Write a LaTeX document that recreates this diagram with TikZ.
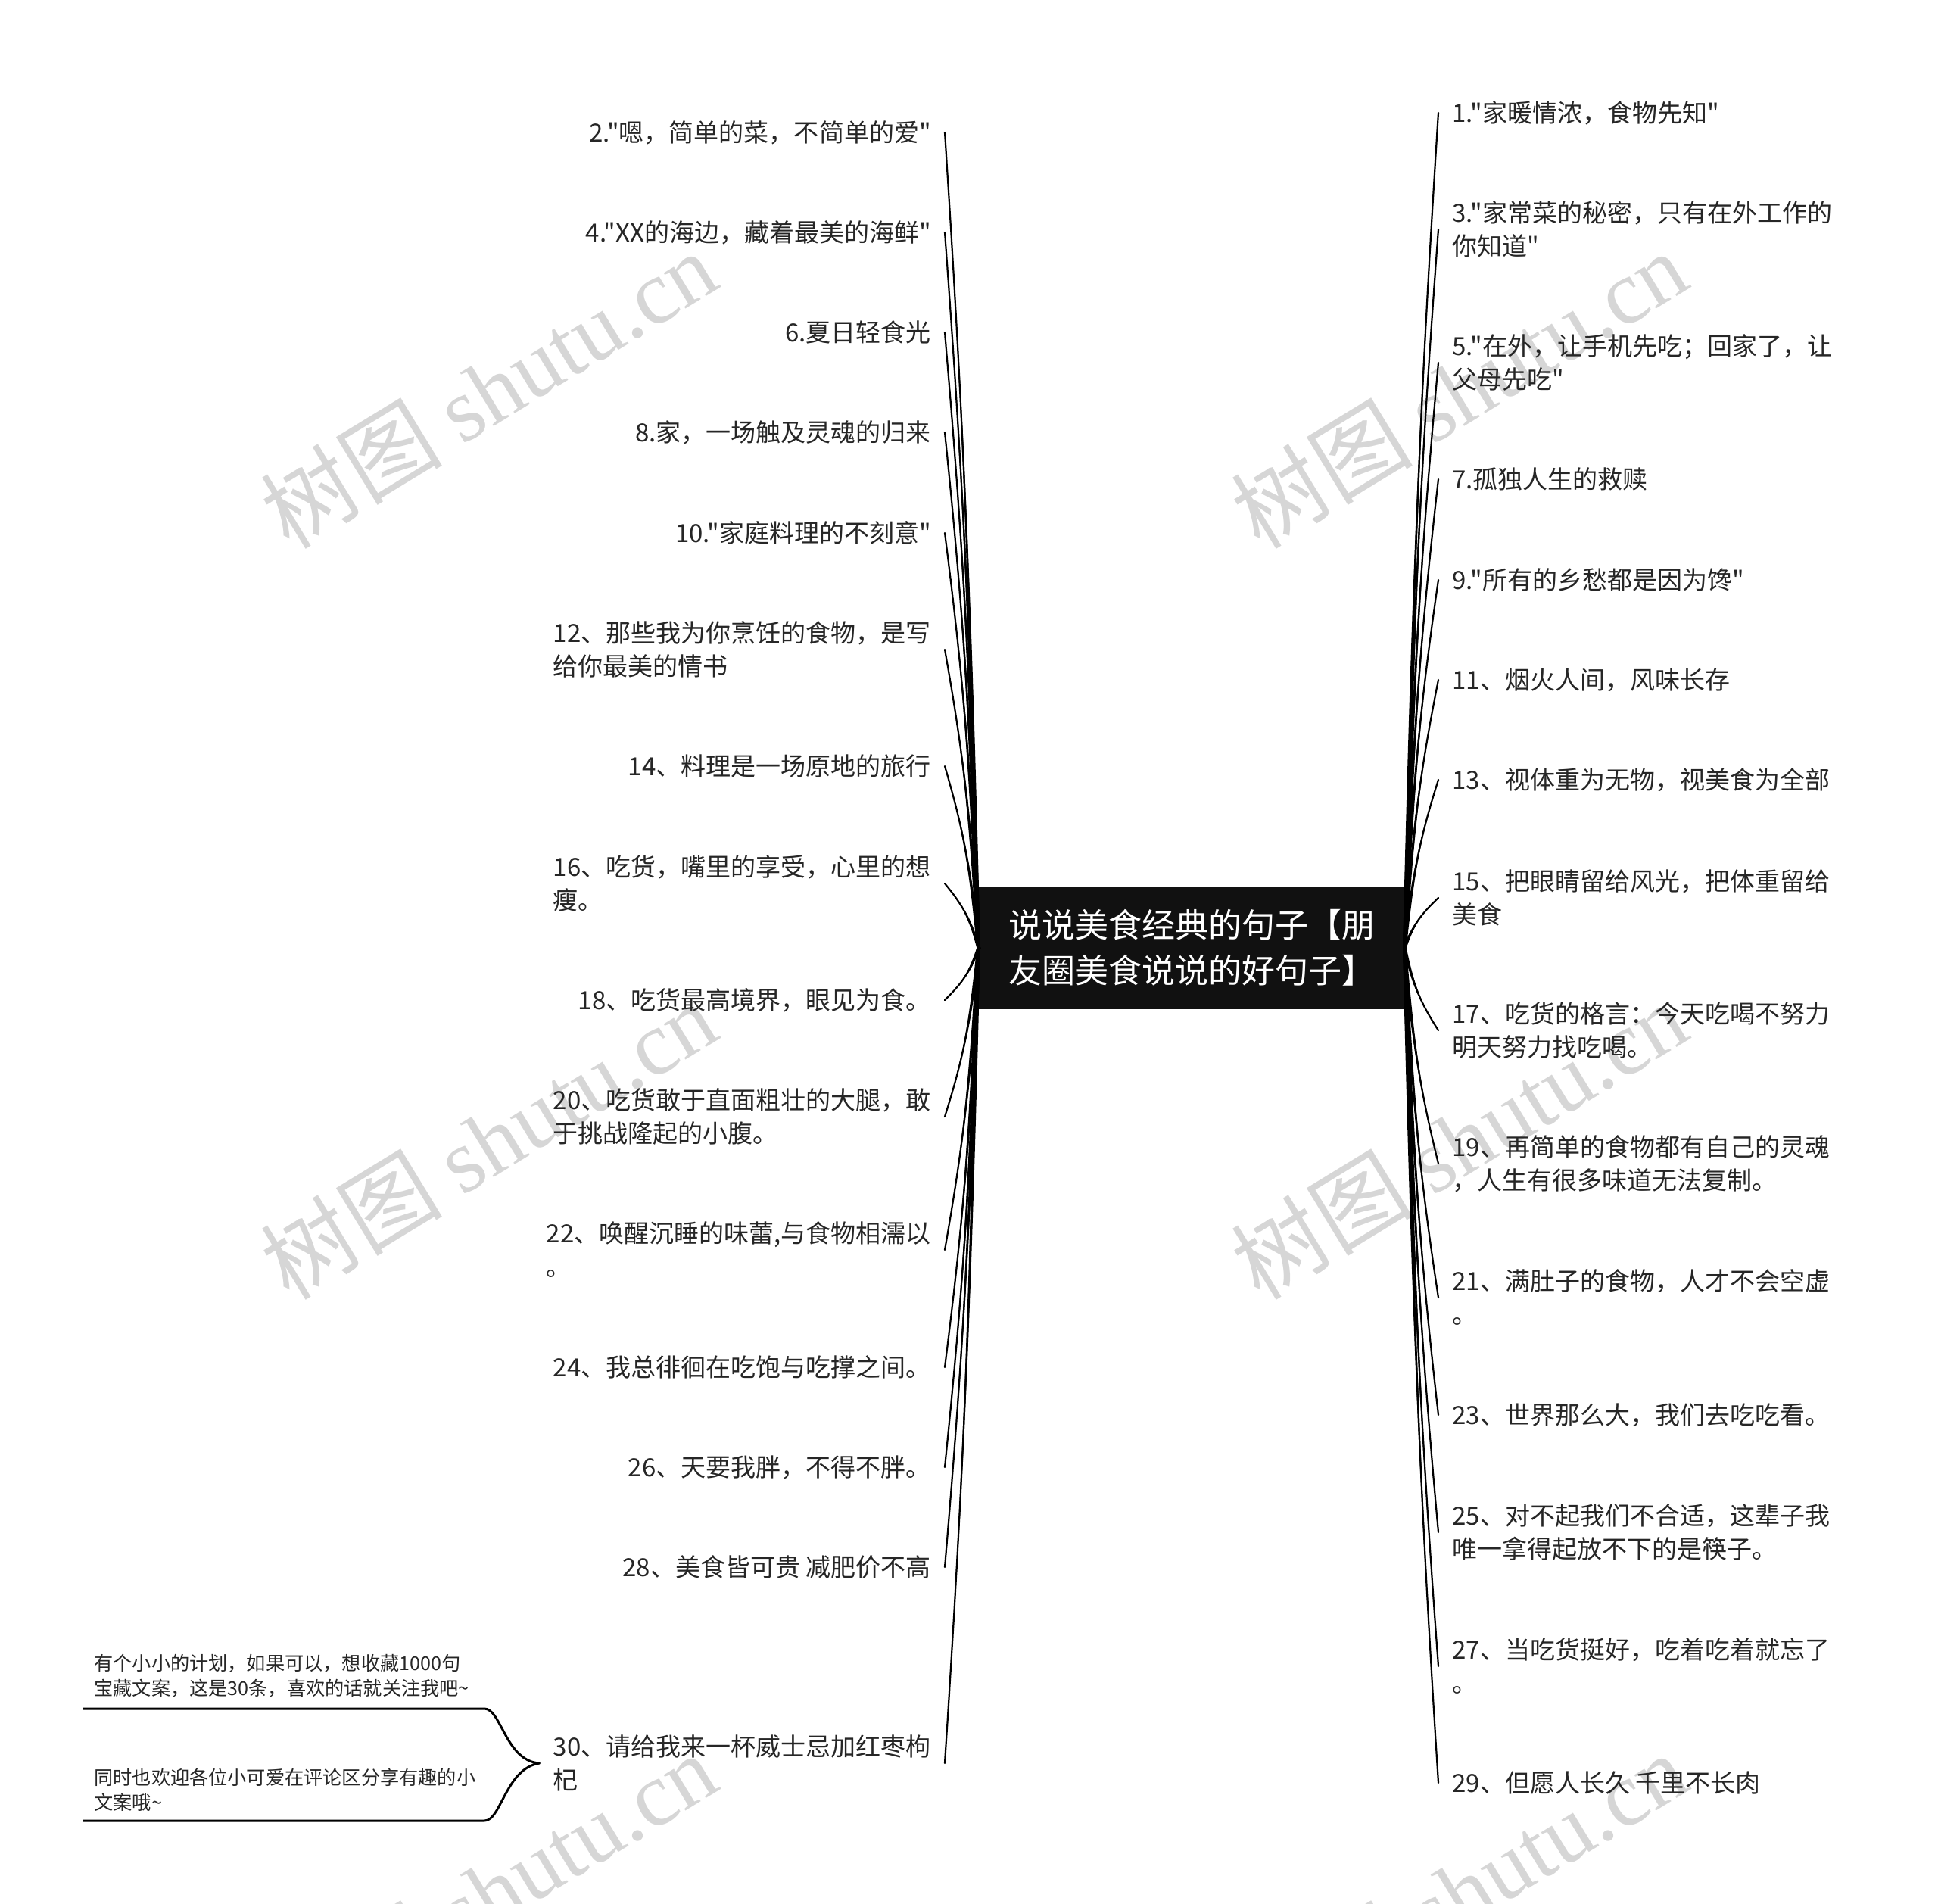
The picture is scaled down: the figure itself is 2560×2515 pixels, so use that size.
\documentclass[tikz,border=0pt]{standalone}
\usepackage{fontspec}
\newfontfamily\cjkfont{Noto Sans CJK SC}
\setmainfont{Noto Sans CJK SC}
\newfontfamily\wmlatin{Liberation Serif}
\usetikzlibrary{calc}
\definecolor{txt}{HTML}{262626}
\definecolor{wm}{HTML}{D6D6D6}
\definecolor{hub}{HTML}{111111}
\newcommand\tld{\char"007E\relax}
\tikzset{
 leaf/.style={font=\cjkfont\fontsize{16.5pt}{22pt}\selectfont, text=txt, align=left, inner xsep=9pt, inner ysep=2pt},
 lleaf/.style={leaf, anchor=east},
 rleaf/.style={leaf, anchor=west},
 hubnode/.style={fill=hub, text=white, font=\cjkfont\fontsize{22pt}{30pt}\selectfont, align=left, minimum width=281pt, minimum height=81pt, inner sep=0pt},
 note/.style={font=\cjkfont\fontsize{12.6pt}{16.5pt}\selectfont, text=txt, align=left, anchor=west, inner sep=0pt},
 wmark/.style={text=wm, rotate=31.4, font=\cjkfont\fontsize{60pt}{60pt}\selectfont, inner sep=0pt},
 bracepath/.style={draw=black, line width=1.5pt, line join=round}
}
\newcommand\taper[2]{%
 \path[fill=black] let \p1=(#1), \p2=(#2) in
  ({\x1+1.2pt},\y1) .. controls ({\x1+0.25*(\x2-\x1)+0.8pt},{\y1+0.45*(\y2-\y1)}) and ({\x1+0.45*(\x2-\x1)+0.4pt},{\y1+0.65*(\y2-\y1)}) .. (\x2,\y2)
  .. controls ({\x1+0.45*(\x2-\x1)-0.4pt},{\y1+0.65*(\y2-\y1)}) and ({\x1+0.25*(\x2-\x1)-0.8pt},{\y1+0.45*(\y2-\y1)}) .. ({\x1-1.2pt},\y1) -- cycle;
 \draw[line width=1.1pt, line cap=round] let \p1=(#1), \p2=(#2) in
  (\x1,\y1) .. controls ({\x1+0.25*(\x2-\x1)},{\y1+0.45*(\y2-\y1)}) and ({\x1+0.45*(\x2-\x1)},{\y1+0.65*(\y2-\y1)}) .. (\x2,\y2);
}
\begin{document}
\begin{tikzpicture}[x=0.5pt,y=-0.5pt]
\useasboundingbox (0,0) rectangle (2560,2515);
\begin{scope}
\clip (0,0) rectangle (2560,2515);
\foreach \cx/\cy in {645/514,645/1506,645/2498,1927/514,1927/1506,1927/2498}
  \node[wmark] at (\cx,\cy) {树图 {\wmlatin shutu.cn}};
\end{scope}

\node[hubnode] (hub) at (1574,1252) {说说美食经典的句子【朋\\友圈美食说说的好句子】};

% left
\node[lleaf] (L1) at (1248,175) {2."嗯，简单的菜，不简单的爱"};
\node[lleaf] (L2) at (1248,307) {4."XX的海边，藏着最美的海鲜"};
\node[lleaf] (L3) at (1248,439) {6.夏日轻食光};
\node[lleaf] (L4) at (1248,571) {8.家，一场触及灵魂的归来};
\node[lleaf] (L5) at (1248,704) {10."家庭料理的不刻意"};
\node[lleaf] (L6) at (1248,858) {12、那些我为你烹饪的食物，是写\\给你最美的情书};
\node[lleaf] (L7) at (1248,1012) {14、料理是一场原地的旅行};
\node[lleaf] (L8) at (1248,1167) {16、吃货，嘴里的享受，心里的想\\瘦。};
\node[lleaf] (L9) at (1248,1321) {18、吃货最高境界，眼见为食。};
\node[lleaf] (L10) at (1248,1475) {20、吃货敢于直面粗壮的大腿，敢\\于挑战隆起的小腹。};
\node[lleaf] (L11) at (1248,1651) {22、唤醒沉睡的味蕾,与食物相濡以\\。};
\node[lleaf] (L12) at (1248,1806) {24、我总徘徊在吃饱与吃撑之间。};
\node[lleaf] (L13) at (1248,1938) {26、天要我胖，不得不胖。};
\node[lleaf] (L14) at (1248,2070) {28、美食皆可贵 减肥价不高};
\node[lleaf] (L15) at (1248,2329) {30、请给我来一杯威士忌加红枣枸\\杞};

% right
\node[rleaf] (R1) at (1900,149) {1."家暖情浓，食物先知"};
\node[rleaf] (R2) at (1900,303) {3."家常菜的秘密，只有在外工作的\\你知道"};
\node[rleaf] (R3) at (1900,479) {5."在外，让手机先吃；回家了，让\\父母先吃"};
\node[rleaf] (R4) at (1900,633) {7.孤独人生的救赎};
\node[rleaf] (R5) at (1900,766) {9."所有的乡愁都是因为馋"};
\node[rleaf] (R6) at (1900,898) {11、烟火人间，风味长存};
\node[rleaf] (R7) at (1900,1030) {13、视体重为无物，视美食为全部};
\node[rleaf] (R8) at (1900,1186) {15、把眼睛留给风光，把体重留给\\美食};
\node[rleaf] (R9) at (1900,1361) {17、吃货的格言：今天吃喝不努力\\明天努力找吃喝。};
\node[rleaf] (R10) at (1900,1537) {19、再简单的食物都有自己的灵魂\\，人生有很多味道无法复制。};
\node[rleaf] (R11) at (1900,1714) {21、满肚子的食物，人才不会空虚\\。};
\node[rleaf] (R12) at (1900,1869) {23、世界那么大，我们去吃吃看。};
\node[rleaf] (R13) at (1900,2024) {25、对不起我们不合适，这辈子我\\唯一拿得起放不下的是筷子。};
\node[rleaf] (R14) at (1900,2201) {27、当吃货挺好，吃着吃着就忘了\\。};
\node[rleaf] (R15) at (1900,2355) {29、但愿人长久 千里不长肉};

% notes
\node[note] (N1) at (124,2214) {有个小小的计划，如果可以，想收藏1000句\\宝藏文案，这是30条，喜欢的话就关注我吧\tld};
\node[note] (N2) at (124,2364) {同时也欢迎各位小可爱在评论区分享有趣的小\\文案哦\tld};

% connectors
\foreach \i in {1,...,15} {
  \taper{hub.west}{L\i.east}
  \taper{hub.east}{R\i.west}
}

\coordinate (b1) at (110,2257);
\coordinate (b2) at (110,2405);
\draw[bracepath] (b1) -- (640,2257) .. controls (662,2257) and (668,2326) .. (L15.west)
  .. controls (668,2336) and (662,2405) .. (640,2405) -- (b2);
\end{tikzpicture}
\end{document}
